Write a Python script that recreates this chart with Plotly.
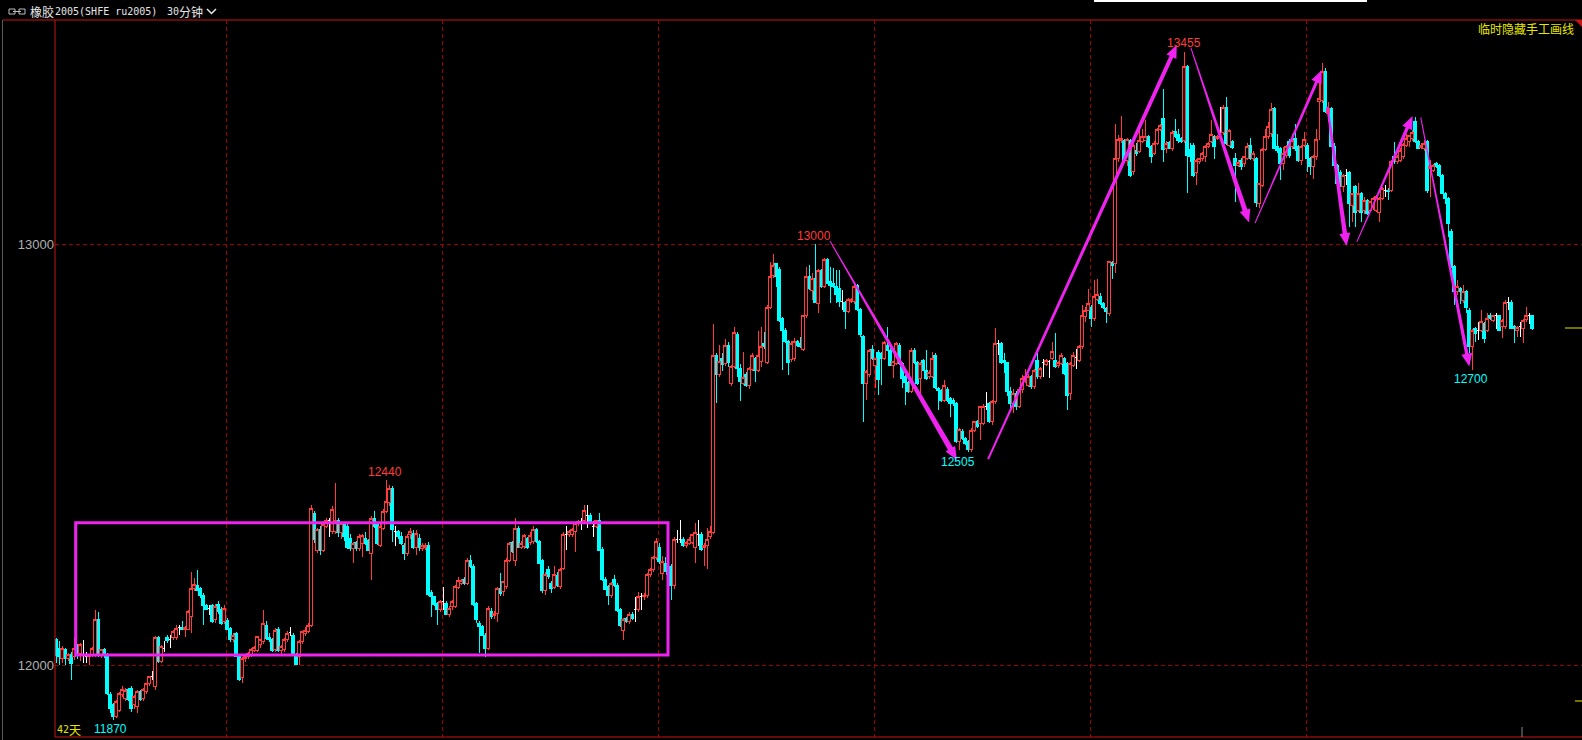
import math
import plotly.graph_objects as go

# ---------------- data (30-minute bars, ru2005) ----------------
opens = [
    12060, 12040, 12016, 12036, 12016, 12024, 12020, 12044, 12028, 12024,
    12020, 12020, 12024, 12024, 12109, 12024, 12036, 12024, 11931, 11905,
    11877, 11893, 11929, 11921, 11941, 11945, 11905, 11901, 11937, 11921,
    11937, 11955, 11972, 11949, 12066, 12008, 12040, 12066, 12060, 12066,
    12066, 12089, 12090, 12085, 12085, 12115, 12181, 12190, 12181, 12166,
    12141, 12135, 12141, 12107, 12144, 12133, 12103, 12105, 12087, 12060,
    12075, 12020, 11970, 12016, 12020, 12024, 12034, 12034, 12048, 12056,
    12095, 12066, 12060, 12036, 12085, 12034, 12036, 12060, 12077, 12071,
    12024, 12020, 12056, 12075, 12079, 12095, 12360, 12273, 12321, 12273,
    12329, 12344, 12317, 12317, 12344, 12315, 12335, 12329, 12301, 12277,
    12290, 12277, 12289, 12300, 12295, 12265, 12348, 12333, 12285, 12325,
    12364, 12385, 12420, 12317, 12317, 12306, 12285, 12265, 12309, 12313,
    12280, 12300, 12277, 12280, 12285, 12172, 12162, 12147, 12131, 12151,
    12147, 12121, 12139, 12139, 12184, 12194, 12203, 12194, 12249, 12235,
    12145, 12099, 12091, 12071, 12040, 12127, 12118, 12123, 12182, 12174,
    12186, 12249, 12290, 12249, 12325, 12280, 12281, 12300, 12291, 12293,
    12321, 12293, 12249, 12178, 12226, 12194, 12184, 12212, 12186, 12230,
    12311, 12311, 12311, 12317, 12337, 12342, 12343, 12356, 12356, 12330,
    12330, 12344, 12275, 12204, 12186, 12164, 12203, 12190, 12131, 12082,
    12110, 12103, 12121, 12131, 12131, 12162, 12162, 12164, 12214, 12226,
    12256, 12280, 12218, 12240, 12234, 12235, 12188, 12299, 12299, 12299,
    12283, 12289, 12291, 12280, 12309, 12311, 12280, 12283, 12305, 12315,
    12736, 12689, 12728, 12715, 12760, 12669, 12710, 12786, 12705, 12669,
    12691, 12663, 12701, 12728, 12699, 12720, 12764, 12718, 12849, 12926,
    12954, 12940, 12823, 12795, 12768, 12726, 12728, 12768, 12764, 12750,
    12829, 12924, 12890, 12918, 12859, 12936, 12898, 12963, 12910, 12906,
    12898, 12894, 12864, 12860, 12839, 12863, 12863, 12902, 12845, 12780,
    12669, 12689, 12750, 12712, 12742, 12740, 12728, 12760, 12748, 12712,
    12716, 12760, 12716, 12685, 12670, 12649, 12748, 12718, 12681, 12724,
    12700, 12685, 12686, 12736, 12657, 12651, 12629, 12655, 12633, 12629,
    12621, 12530, 12554, 12538, 12530, 12511, 12558, 12578, 12574, 12574,
    12613, 12621, 12578, 12625, 12764, 12764, 12723, 12718, 12650, 12620,
    12645, 12615, 12655, 12677, 12665, 12685, 12662, 12724, 12685, 12718,
    12714, 12720, 12728, 12724, 12712, 12716, 12728, 12716, 12645, 12712,
    12730, 12724, 12756, 12827, 12843, 12850, 12823, 12868, 12875, 12859,
    12847, 12835, 12955, 12954, 13203, 13245, 13247, 13199, 13247, 13172,
    13221, 13219, 13243, 13247, 13255, 13231, 13215, 13239, 13272, 13298,
    13227, 13240, 13227, 13267, 13259, 13251, 13247, 13421, 13225, 13235,
    13169, 13195, 13203, 13207, 13231, 13243, 13255, 13251, 13259, 13264,
    13324, 13235, 13243, 13203, 13187, 13199, 13191, 13203, 13235, 13203,
    13203, 13096, 13140, 13225, 13255, 13262, 13322, 13232, 13227, 13191,
    13211, 13243, 13231, 13250, 13231, 13199, 13235, 13235, 13203, 13183,
    13207, 13338, 13341, 13409, 13310, 13322, 13231, 13187, 13171, 13136,
    13163, 13169, 13092, 13136, 13080, 13120, 13080, 13104, 13080, 13088,
    13080, 13076, 13108, 13128, 13128, 13128, 13207, 13195, 13199, 13207,
    13235, 13243, 13250, 13290, 13243, 13229, 13227, 13243, 13179, 13175,
    13191, 13187, 13163, 13120, 13108, 13029, 12946, 12886, 12894, 12866,
    12886, 12843, 12756, 12799, 12795, 12795, 12811, 12795, 12829, 12819,
    12829, 12829, 12803, 12803, 12862, 12862, 12805, 12795, 12803, 12799,
    12821, 12829, 12829,
]
highs = [
    12064, 12058, 12045, 12040, 12028, 12030, 12067, 12050, 12052, 12060,
    12030, 12026, 12042, 12131, 12127, 12038, 12040, 12028, 11935, 11910,
    11917, 11937, 11950, 11945, 11945, 11950, 11929, 11941, 11941, 11945,
    11958, 11975, 11986, 12068, 12070, 12048, 12056, 12072, 12071, 12082,
    12095, 12095, 12105, 12092, 12130, 12220, 12206, 12226, 12185, 12170,
    12145, 12143, 12146, 12145, 12151, 12138, 12143, 12112, 12090, 12075,
    12078, 12025, 12020, 12024, 12032, 12040, 12045, 12070, 12062, 12131,
    12105, 12075, 12065, 12087, 12090, 12048, 12065, 12080, 12090, 12075,
    12028, 12060, 12080, 12090, 12100, 12380, 12365, 12325, 12330, 12340,
    12350, 12348, 12378, 12432, 12350, 12340, 12340, 12335, 12310, 12292,
    12295, 12310, 12310, 12315, 12300, 12355, 12365, 12340, 12335, 12370,
    12440, 12428, 12425, 12329, 12320, 12315, 12290, 12310, 12325, 12320,
    12320, 12310, 12290, 12290, 12292, 12178, 12165, 12150, 12155, 12186,
    12152, 12140, 12155, 12190, 12210, 12205, 12208, 12255, 12261, 12240,
    12150, 12105, 12095, 12075, 12140, 12135, 12128, 12186, 12218, 12200,
    12255, 12292, 12295, 12348, 12330, 12295, 12312, 12305, 12315, 12330,
    12326, 12297, 12252, 12222, 12235, 12200, 12235, 12220, 12230, 12315,
    12330, 12320, 12325, 12340, 12345, 12348, 12380, 12380, 12360, 12341,
    12345, 12360, 12280, 12208, 12190, 12198, 12214, 12195, 12135, 12112,
    12115, 12125, 12125, 12162, 12174, 12170, 12170, 12218, 12230, 12260,
    12301, 12290, 12258, 12257, 12240, 12240, 12305, 12321, 12344, 12303,
    12295, 12305, 12312, 12338, 12344, 12315, 12290, 12325, 12330, 12810,
    12740, 12760, 12740, 12774, 12768, 12712, 12804, 12792, 12715, 12744,
    12697, 12708, 12740, 12732, 12794, 12803, 12792, 12855, 12958, 12976,
    12956, 12945, 12826, 12800, 12772, 12770, 12776, 12772, 12780, 12830,
    12946, 12950, 12930, 13000, 12940, 12940, 12966, 12966, 12946, 12942,
    12938, 12938, 12890, 12865, 12872, 12872, 12906, 12906, 12848, 12784,
    12700, 12750, 12760, 12730, 12748, 12744, 12770, 12803, 12752, 12722,
    12768, 12765, 12720, 12690, 12675, 12752, 12752, 12722, 12720, 12728,
    12748, 12700, 12744, 12740, 12660, 12655, 12677, 12660, 12637, 12635,
    12625, 12562, 12560, 12542, 12534, 12562, 12580, 12582, 12615, 12620,
    12649, 12625, 12630, 12801, 12773, 12768, 12740, 12720, 12660, 12655,
    12650, 12660, 12690, 12704, 12692, 12688, 12702, 12740, 12708, 12728,
    12728, 12724, 12768, 12788, 12722, 12742, 12732, 12720, 12720, 12744,
    12750, 12760, 12856, 12850, 12894, 12855, 12914, 12916, 12883, 12862,
    12850, 12960, 12960, 13285, 13259, 13304, 13250, 13252, 13250, 13240,
    13239, 13270, 13272, 13294, 13260, 13235, 13245, 13275, 13285, 13369,
    13245, 13245, 13270, 13298, 13274, 13255, 13455, 13425, 13240, 13240,
    13201, 13205, 13218, 13235, 13242, 13294, 13260, 13260, 13326, 13330,
    13350, 13272, 13248, 13215, 13200, 13205, 13210, 13240, 13251, 13220,
    13207, 13145, 13228, 13274, 13290, 13334, 13326, 13262, 13231, 13231,
    13235, 13250, 13262, 13286, 13235, 13235, 13266, 13240, 13207, 13211,
    13274, 13389, 13429, 13417, 13338, 13326, 13240, 13190, 13175, 13167,
    13179, 13173, 13122, 13140, 13144, 13124, 13112, 13108, 13102, 13112,
    13116, 13112, 13135, 13140, 13132, 13199, 13243, 13211, 13227, 13240,
    13262, 13260, 13270, 13302, 13246, 13240, 13246, 13246, 13199, 13190,
    13195, 13190, 13166, 13124, 13112, 13035, 12950, 12914, 12898, 12902,
    12890, 12847, 12799, 12803, 12815, 12843, 12815, 12835, 12835, 12830,
    12835, 12832, 12822, 12866, 12873, 12866, 12808, 12805, 12815, 12822,
    12850, 12835, 12832,
]
lows = [
    12005, 12000, 12005, 12000, 12010, 11965, 12012, 12015, 12010, 12004,
    12005, 12000, 12018, 12020, 12020, 12016, 12016, 11929, 11885, 11869,
    11873, 11889, 11925, 11915, 11915, 11889, 11895, 11885, 11915, 11915,
    11930, 11950, 11965, 11941, 12005, 12005, 12032, 12052, 12040, 12060,
    12060, 12071, 12083, 12067, 12083, 12075, 12175, 12175, 12160, 12095,
    12130, 12119, 12100, 12100, 12122, 12095, 12098, 12083, 12055, 12055,
    12018, 11962, 11958, 12008, 12015, 12020, 12030, 12030, 12040, 12050,
    12060, 12055, 12030, 12030, 12030, 12025, 12030, 12055, 12069, 12024,
    12000, 12000, 12050, 12070, 12075, 12090, 12290, 12265, 12262, 12268,
    12325, 12305, 12310, 12312, 12305, 12300, 12295, 12275, 12270, 12242,
    12270, 12270, 12257, 12285, 12270, 12202, 12325, 12285, 12280, 12320,
    12360, 12378, 12293, 12283, 12300, 12285, 12249, 12260, 12300, 12275,
    12261, 12270, 12270, 12272, 12165, 12115, 12140, 12095, 12125, 12131,
    12118, 12115, 12130, 12135, 12180, 12190, 12190, 12190, 12230, 12140,
    12100, 12028, 12068, 12020, 12035, 12110, 12110, 12103, 12165, 12165,
    12180, 12245, 12265, 12234, 12278, 12275, 12275, 12275, 12285, 12288,
    12290, 12240, 12170, 12166, 12205, 12170, 12180, 12185, 12180, 12225,
    12273, 12305, 12305, 12269, 12330, 12320, 12338, 12325, 12338, 12305,
    12325, 12270, 12200, 12178, 12143, 12160, 12185, 12125, 12090, 12059,
    12100, 12098, 12108, 12103, 12127, 12131, 12155, 12160, 12210, 12222,
    12250, 12240, 12202, 12220, 12210, 12154, 12180, 12289, 12289, 12280,
    12278, 12285, 12288, 12242, 12283, 12270, 12234, 12227, 12300, 12310,
    12623, 12683, 12699, 12710, 12709, 12663, 12705, 12683, 12628, 12665,
    12660, 12655, 12698, 12673, 12695, 12708, 12750, 12715, 12845, 12920,
    12898, 12815, 12700, 12765, 12689, 12720, 12722, 12755, 12752, 12745,
    12825, 12890, 12867, 12860, 12835, 12895, 12895, 12905, 12859, 12895,
    12859, 12851, 12843, 12799, 12835, 12860, 12858, 12840, 12780, 12578,
    12629, 12685, 12725, 12657, 12641, 12665, 12724, 12745, 12710, 12681,
    12712, 12712, 12657, 12617, 12645, 12645, 12715, 12665, 12637, 12698,
    12677, 12680, 12682, 12655, 12605, 12625, 12625, 12625, 12590, 12615,
    12528, 12511, 12535, 12522, 12507, 12506, 12554, 12562, 12534, 12570,
    12605, 12574, 12570, 12620, 12736, 12715, 12693, 12640, 12610, 12598,
    12605, 12610, 12645, 12670, 12660, 12655, 12655, 12680, 12680, 12685,
    12710, 12681, 12724, 12705, 12705, 12712, 12690, 12605, 12630, 12708,
    12704, 12720, 12750, 12815, 12840, 12803, 12818, 12865, 12855, 12845,
    12813, 12830, 12918, 12930, 13195, 13240, 13195, 13185, 13160, 13165,
    13210, 13215, 13240, 13244, 13228, 13193, 13212, 13235, 13268, 13195,
    13215, 13225, 13222, 13252, 13240, 13240, 13240, 13120, 13195, 13160,
    13140, 13190, 13198, 13195, 13228, 13240, 13203, 13248, 13247, 13260,
    13235, 13230, 13225, 13100, 13183, 13176, 13183, 13199, 13200, 13198,
    13088, 13085, 13135, 13220, 13250, 13255, 13225, 13215, 13151, 13175,
    13205, 13205, 13225, 13222, 13195, 13187, 13230, 13171, 13163, 13155,
    13200, 13246, 13335, 13310, 13290, 13230, 13183, 13140, 13136, 13124,
    13140, 13041, 13053, 13041, 13075, 13053, 13072, 13068, 13075, 13080,
    13076, 13053, 13105, 13112, 13104, 13124, 13190, 13190, 13195, 13203,
    13230, 13231, 13245, 13240, 13225, 13225, 13222, 13120, 13112, 13170,
    13180, 13160, 13118, 13096, 13017, 12942, 12855, 12880, 12858, 12860,
    12835, 12740, 12700, 12767, 12771, 12790, 12764, 12790, 12820, 12815,
    12799, 12795, 12776, 12798, 12843, 12799, 12764, 12779, 12779, 12764,
    12815, 12811, 12795,
]
closes = [
    12022, 12020, 12040, 12016, 12024, 12004, 12040, 12024, 12049, 12024,
    12020, 12024, 12040, 12109, 12024, 12036, 12024, 11933, 11897, 11877,
    11913, 11933, 11941, 11940, 11919, 11897, 11925, 11937, 11919, 11941,
    11955, 11972, 11972, 12066, 12008, 12044, 12040, 12058, 12060, 12079,
    12087, 12089, 12085, 12090, 12128, 12181, 12192, 12178, 12166, 12141,
    12133, 12135, 12103, 12140, 12127, 12099, 12135, 12085, 12060, 12070,
    12020, 11965, 12016, 12020, 12028, 12036, 12042, 12067, 12060, 12099,
    12063, 12060, 12034, 12083, 12034, 12045, 12060, 12075, 12077, 12028,
    12002, 12055, 12079, 12083, 12095, 12372, 12297, 12321, 12273, 12333,
    12344, 12344, 12370, 12344, 12315, 12335, 12305, 12280, 12277, 12289,
    12277, 12305, 12307, 12289, 12273, 12348, 12329, 12289, 12329, 12364,
    12388, 12420, 12321, 12317, 12306, 12289, 12265, 12305, 12317, 12280,
    12313, 12280, 12285, 12285, 12168, 12162, 12143, 12131, 12151, 12151,
    12121, 12135, 12151, 12186, 12200, 12200, 12194, 12249, 12234, 12143,
    12107, 12091, 12071, 12040, 12135, 12115, 12123, 12182, 12170, 12198,
    12249, 12289, 12269, 12325, 12280, 12289, 12307, 12280, 12307, 12321,
    12293, 12242, 12178, 12215, 12210, 12182, 12216, 12188, 12226, 12311,
    12311, 12317, 12321, 12337, 12341, 12342, 12366, 12356, 12341, 12330,
    12344, 12273, 12204, 12180, 12164, 12194, 12190, 12129, 12093, 12109,
    12103, 12121, 12111, 12131, 12162, 12162, 12166, 12214, 12226, 12256,
    12293, 12246, 12246, 12222, 12214, 12188, 12299, 12299, 12299, 12283,
    12291, 12299, 12309, 12314, 12309, 12275, 12285, 12299, 12317, 12736,
    12689, 12721, 12713, 12760, 12718, 12710, 12790, 12705, 12673, 12683,
    12663, 12705, 12736, 12699, 12736, 12757, 12757, 12849, 12924, 12950,
    12922, 12818, 12795, 12768, 12718, 12764, 12768, 12760, 12757, 12829,
    12924, 12894, 12918, 12861, 12936, 12898, 12963, 12906, 12902, 12898,
    12879, 12863, 12864, 12839, 12868, 12868, 12900, 12845, 12784, 12669,
    12697, 12746, 12728, 12728, 12677, 12728, 12765, 12748, 12712, 12720,
    12764, 12716, 12681, 12670, 12649, 12746, 12718, 12669, 12716, 12700,
    12681, 12694, 12728, 12659, 12651, 12629, 12665, 12629, 12621, 12621,
    12530, 12560, 12538, 12526, 12511, 12558, 12578, 12566, 12613, 12615,
    12613, 12578, 12625, 12764, 12764, 12718, 12718, 12650, 12620, 12645,
    12615, 12655, 12680, 12685, 12685, 12662, 12700, 12685, 12704, 12718,
    12723, 12720, 12744, 12708, 12718, 12736, 12693, 12640, 12716, 12736,
    12730, 12756, 12831, 12843, 12859, 12823, 12875, 12879, 12859, 12849,
    12839, 12958, 12950, 13203, 13248, 13251, 13199, 13248, 13162, 13235,
    13215, 13247, 13255, 13255, 13231, 13207, 13239, 13272, 13281, 13225,
    13239, 13227, 13264, 13256, 13247, 13243, 13421, 13210, 13207, 13162,
    13199, 13203, 13215, 13231, 13239, 13259, 13231, 13256, 13259, 13324,
    13239, 13270, 13229, 13187, 13193, 13183, 13207, 13231, 13203, 13215,
    13098, 13144, 13225, 13255, 13278, 13320, 13227, 13223, 13191, 13215,
    13231, 13211, 13246, 13227, 13199, 13231, 13248, 13203, 13183, 13208,
    13248, 13345, 13409, 13314, 13322, 13231, 13187, 13144, 13144, 13163,
    13163, 13096, 13120, 13076, 13120, 13076, 13104, 13072, 13100, 13108,
    13112, 13108, 13132, 13128, 13124, 13197, 13195, 13207, 13223, 13237,
    13250, 13258, 13266, 13243, 13227, 13235, 13239, 13128, 13185, 13187,
    13183, 13163, 13120, 13108, 13049, 12946, 12886, 12898, 12886, 12886,
    12850, 12756, 12795, 12787, 12795, 12815, 12775, 12823, 12823, 12829,
    12829, 12795, 12819, 12862, 12862, 12799, 12799, 12801, 12803, 12819,
    12829, 12829, 12799,
]

# dashed day-block separators (bar positions) and price gridlines
vgrid_idx = [56.67, 128.67, 200.67, 272.67, 344.67, 416.67]
ytick_vals = [12000, 13000]
ytick_text = ["12000", "13000"]

# extreme-price labels
label_text = ["11870", "12440", "13000", "12505", "13455", "12700"]
label_idx = [18.0, 109.8, 252.8, 300.8, 376.0, 471.7]
label_price = [11848, 12458, 13019, 12482, 13477, 12679]
label_up = [False, True, True, False, True, False]

# hand-drawn consolidation box
box_idx = [6.57, 204.0]
box_price = [12024, 12338]

# hand-drawn tapered arrows
arrow_start_idx = [258.0, 310.7, 378.3, 399.7, 423.8, 433.6, 454.9]
arrow_start_price = [13007, 12489, 13466, 13050, 13326, 13005, 13301]
arrow_end_idx = [300.3, 373.6, 397.7, 421.9, 430.2, 452.2, 471.1]
arrow_end_price = [12487, 13473, 13051, 13413, 12995, 13304, 12709]
arrow_w0 = [1.0, 2.0, 1.0, 1.0, 2.0, 1.0, 1.0]
arrow_w1 = [5.5, 4.0, 5.0, 3.0, 4.5, 3.5, 3.5]

# ---------------- geometry ----------------
W, H = 1582, 740
L_PX, R_PX, T_PX, B_PX = 55, 1582, 20, 737
BAR0_PX, BAR_PX = 56.0, 3.0
P12000_PX, PT_PX = 665.0, 0.421


def i2px(i):
    return BAR0_PX + BAR_PX * i


def px2i(px):
    return (px - BAR0_PX) / BAR_PX


def p2py(p):
    return P12000_PX - (p - 12000) * PT_PX


def py2p(py):
    return 12000 + (P12000_PX - py) / PT_PX


def pxp(px):
    return (px - L_PX) / (R_PX - L_PX)


def pyp(py):
    return (B_PX - py) / (B_PX - T_PX)


UP = "#ff3b3b"
DN = "#00ffff"
MAG = "#f022f0"
GRID = "#9a0000"
BORDER = "#c81414"
YEL = "#e6e600"

n = min(len(opens), len(highs), len(lows), len(closes))
hi = [max(highs[i], opens[i], closes[i]) for i in range(n)]
lo = [min(lows[i], opens[i], closes[i]) for i in range(n)]


def cs(ids, line, fill):
    st = dict(line=dict(color=line, width=1), fillcolor=fill)
    return go.Candlestick(
        x=ids,
        open=[opens[i] for i in ids],
        high=[hi[i] for i in ids],
        low=[lo[i] for i in ids],
        close=[closes[i] for i in ids],
        increasing=st, decreasing=st,
        whiskerwidth=0, hoverinfo="skip", showlegend=False,
    )


up_ids = [i for i in range(n) if closes[i] > opens[i]]
dn_ids = [i for i in range(n) if closes[i] < opens[i]]
dj_ids = [i for i in range(n) if closes[i] == opens[i]]

fig = go.Figure()
fig.add_trace(cs(dn_ids, DN, DN))
fig.add_trace(cs(up_ids, UP, "#000000"))
fig.add_trace(cs(dj_ids, "#ffffff", "#ffffff"))

shapes = []


def pline(x0, y0, x1, y1, color, width=1, dash=None):
    d = dict(type="line", xref="paper", yref="paper",
             x0=pxp(x0), y0=pyp(y0), x1=pxp(x1), y1=pyp(y1),
             line=dict(color=color, width=width), layer="above")
    if dash:
        d["line"]["dash"] = dash
    shapes.append(d)


# consolidation rectangle
shapes.append(dict(type="rect", xref="x", yref="y",
                   x0=box_idx[0], x1=box_idx[1], y0=box_price[0], y1=box_price[1],
                   line=dict(color=MAG, width=3), fillcolor="rgba(0,0,0,0)", layer="above"))


def arrow_path(i0, p0, i1, p1, w0, w1, hl=13.0, hw=5.5):
    x0, y0 = i2px(i0), p2py(p0)
    x1, y1 = i2px(i1), p2py(p1)
    dx, dy = x1 - x0, y1 - y0
    d = math.hypot(dx, dy)
    ux, uy = dx / d, dy / d
    nx, ny = -uy, ux
    bx, by = x1 - ux * hl, y1 - uy * hl
    pts = [(x0 + nx * w0 / 2, y0 + ny * w0 / 2),
           (bx + nx * w1 / 2, by + ny * w1 / 2),
           (bx + nx * hw, by + ny * hw),
           (x1, y1),
           (bx - nx * hw, by - ny * hw),
           (bx - nx * w1 / 2, by - ny * w1 / 2),
           (x0 - nx * w0 / 2, y0 - ny * w0 / 2)]
    return "M " + " L ".join(f"{px2i(x):.3f},{py2p(y):.2f}" for x, y in pts) + " Z"


for k in range(len(arrow_start_idx)):
    shapes.append(dict(type="path", xref="x", yref="y",
                       path=arrow_path(arrow_start_idx[k], arrow_start_price[k],
                                       arrow_end_idx[k], arrow_end_price[k],
                                       arrow_w0[k], arrow_w1[k]),
                       fillcolor=MAG, line=dict(width=0), layer="above"))

# frame
pline(55, 20, 55, 737, BORDER)
pline(3, 20, 1582, 20, BORDER)
pline(55, 737, 1582, 737, BORDER)
pline(2.5, 20, 2.5, 740, "#5a5a5a")
# right-side markers
pline(1565, 328, 1582, 328, YEL)
pline(1575, 701, 1582, 701, YEL)
pline(1522, 727, 1522, 737, "#8a8a8a")
# top white strip
shapes.append(dict(type="rect", xref="paper", yref="paper",
                   x0=pxp(1094), x1=pxp(1367), y0=pyp(2), y1=pyp(0),
                   fillcolor="#ffffff", line=dict(width=0), layer="above"))
# red corner triangle
shapes.append(dict(type="path", xref="paper", yref="paper",
                   path=f"M {pxp(1575)},{pyp(20)} L {pxp(1582)},{pyp(20)} L {pxp(1582)},{pyp(27)} Z",
                   fillcolor=BORDER, line=dict(width=0), layer="above"))
# title icon (link) and chevron
shapes.append(dict(type="rect", xref="paper", yref="paper",
                   x0=pxp(9), x1=pxp(15), y0=pyp(14), y1=pyp(9),
                   line=dict(color="#bdbdbd", width=1), layer="above"))
shapes.append(dict(type="rect", xref="paper", yref="paper",
                   x0=pxp(19), x1=pxp(25), y0=pyp(14), y1=pyp(9),
                   line=dict(color="#bdbdbd", width=1), layer="above"))
pline(13, 11.5, 21, 11.5, "#bdbdbd")
shapes.append(dict(type="path", xref="paper", yref="paper",
                   path=f"M {pxp(207)},{pyp(9)} L {pxp(211.5)},{pyp(13.5)} L {pxp(216)},{pyp(9)}",
                   line=dict(color="#e6e6e6", width=1.5), layer="above"))

ann = []


def ptext(text, px, py, color, size=12, family="Liberation Sans", xanchor="left"):
    ann.append(dict(text=text, xref="paper", yref="paper", x=pxp(px), y=pyp(py),
                    xanchor=xanchor, yanchor="middle", showarrow=False,
                    font=dict(color=color, size=size, family=family), borderpad=0))


CJK = "Noto Sans CJK SC"
MONO = "DejaVu Sans Mono"
ptext("橡胶", 29, 11.5, "#e6e6e6", 12, CJK)
ptext("2005(SHFE ru2005)", 54, 11.5, "#e6e6e6", 10, MONO)
ptext("30", 166, 11.5, "#e6e6e6", 10, MONO)
ptext("分钟", 178, 11.5, "#e6e6e6", 12, CJK)
ptext("临时隐藏手工画线", 1575, 29, YEL, 12, CJK, xanchor="right")
ptext("42", 56, 729, YEL, 10, MONO)
ptext("天", 68, 729, YEL, 12, CJK)

for k in range(len(label_text)):
    ann.append(dict(text=label_text[k], xref="x", yref="y",
                    x=label_idx[k], y=label_price[k], xanchor="center", yanchor="middle",
                    showarrow=False, borderpad=0,
                    font=dict(color=UP if label_up[k] else DN, size=12, family="Liberation Sans")))

fig.update_layout(
    width=W, height=H,
    margin=dict(l=L_PX, r=W - R_PX, t=T_PX, b=H - B_PX, pad=0),
    paper_bgcolor="#000000", plot_bgcolor="#000000",
    showlegend=False, boxgap=0.1, boxgroupgap=0.05,
    shapes=shapes, annotations=ann, hovermode=False,
    xaxis=dict(range=[px2i(L_PX), px2i(R_PX)], tickvals=vgrid_idx, showticklabels=False,
               showgrid=True, gridcolor=GRID, gridwidth=1, griddash="4px,3px",
               zeroline=False, showline=False, ticks="", fixedrange=True,
               rangeslider=dict(visible=False)),
    yaxis=dict(range=[py2p(B_PX), py2p(T_PX)], tickvals=ytick_vals, ticktext=ytick_text,
               tickfont=dict(color="#b0b0b0", size=13, family="Liberation Sans"),
               showgrid=True, gridcolor=GRID, gridwidth=1, griddash="4px,3px",
               zeroline=False, showline=False, ticks="", fixedrange=True),
)

post = (
    "document.body.style.margin='0';document.body.style.background='#000';"
    "document.querySelectorAll('g.boxlayer path').forEach(function(p){"
    "p.setAttribute('shape-rendering','crispEdges');});"
)
fig.write_html("out.html", config={"displayModeBar": False}, post_script=post)
